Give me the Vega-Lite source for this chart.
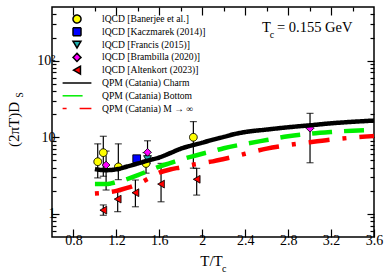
{
  "$schema": "https://vega.github.io/schema/vega-lite/v6.json",
  "width": 322,
  "height": 230,
  "autosize": {"type": "none"},
  "padding": {"left": 52, "top": 7, "right": 16, "bottom": 42},
  "background": "white",
  "config": {
    "view": {"stroke": "black", "strokeWidth": 1.5},
    "axis": {"domain": false, "grid": false, "labelFont": "Liberation Serif", "labelFontSize": 14, "labelColor": "black", "tickColor": "black", "tickWidth": 1.2, "titleFont": "Liberation Serif", "titleFontSize": 15, "titleFontWeight": "normal", "titleColor": "black", "labelFlush": false, "labelOverlap": false},
    "legend": {"labelFont": "Liberation Serif", "labelFontSize": 9.6, "labelColor": "black", "symbolSize": 64, "labelOffset": 20, "rowPadding": -1.2, "padding": 0, "labelLimit": 200}
  },
  "datasets": {
    "pts": [
      {"series": "lQCD [Francis (2015)]", "t": 1.49, "d": 5.2},
      {"series": "lQCD [Banerjee et al.]", "t": 1.026, "d": 4.8, "lo": 2.95, "hi": 8.2},
      {"series": "lQCD [Banerjee et al.]", "t": 1.078, "d": 6.3, "lo": 3.1, "hi": 10.3},
      {"series": "lQCD [Banerjee et al.]", "t": 1.218, "d": 4.1, "lo": 2.8, "hi": 8.2},
      {"series": "lQCD [Banerjee et al.]", "t": 1.476, "d": 4.55, "lo": 3.4, "hi": 6.3},
      {"series": "lQCD [Banerjee et al.]", "t": 1.917, "d": 10.0, "lo": 3.95, "hi": 16.0},
      {"series": "lQCD [Kaczmarek (2014)]", "t": 1.389, "d": 5.25},
      {"series": "lQCD [Brambilla (2020)]", "t": 1.104, "d": 4.34, "lo": 2.05, "hi": 6.6},
      {"series": "lQCD [Brambilla (2020)]", "t": 1.49, "d": 6.36, "lo": 4.6, "hi": 9.0},
      {"series": "lQCD [Brambilla (2020)]", "t": 3.004, "d": 13.1, "lo": 4.65, "hi": 20.5},
      {"series": "lQCD [Altenkort (2023)]", "t": 1.078, "d": 1.12, "lo": 0.96, "hi": 1.31},
      {"series": "lQCD [Altenkort (2023)]", "t": 1.212, "d": 1.56, "lo": 1.07, "hi": 1.95},
      {"series": "lQCD [Altenkort (2023)]", "t": 1.377, "d": 1.89, "lo": 1.24, "hi": 2.77},
      {"series": "lQCD [Altenkort (2023)]", "t": 1.616, "d": 2.45, "lo": 1.44, "hi": 4.56},
      {"series": "lQCD [Altenkort (2023)]", "t": 1.948, "d": 2.83, "lo": 1.76, "hi": 3.93}
    ],
    "lines": [
      {"series": "QPM (Catania) Charm", "t": 1.0, "d": 3.85},
      {"series": "QPM (Catania) Charm", "t": 1.05, "d": 3.75},
      {"series": "QPM (Catania) Charm", "t": 1.1, "d": 3.72},
      {"series": "QPM (Catania) Charm", "t": 1.15, "d": 3.74},
      {"series": "QPM (Catania) Charm", "t": 1.2, "d": 3.82},
      {"series": "QPM (Catania) Charm", "t": 1.3, "d": 4.15},
      {"series": "QPM (Catania) Charm", "t": 1.4, "d": 4.55},
      {"series": "QPM (Catania) Charm", "t": 1.5, "d": 5.0},
      {"series": "QPM (Catania) Charm", "t": 1.6, "d": 5.45},
      {"series": "QPM (Catania) Charm", "t": 1.7, "d": 6.2},
      {"series": "QPM (Catania) Charm", "t": 1.8, "d": 7.1},
      {"series": "QPM (Catania) Charm", "t": 1.9, "d": 7.8},
      {"series": "QPM (Catania) Charm", "t": 2.0, "d": 8.5},
      {"series": "QPM (Catania) Charm", "t": 2.1, "d": 9.3},
      {"series": "QPM (Catania) Charm", "t": 2.2, "d": 10.1},
      {"series": "QPM (Catania) Charm", "t": 2.3, "d": 11.0},
      {"series": "QPM (Catania) Charm", "t": 2.4, "d": 11.7},
      {"series": "QPM (Catania) Charm", "t": 2.6, "d": 12.6},
      {"series": "QPM (Catania) Charm", "t": 2.8, "d": 13.5},
      {"series": "QPM (Catania) Charm", "t": 3.0, "d": 14.3},
      {"series": "QPM (Catania) Charm", "t": 3.2, "d": 15.2},
      {"series": "QPM (Catania) Charm", "t": 3.4, "d": 15.9},
      {"series": "QPM (Catania) Charm", "t": 3.6, "d": 16.5},
      {"series": "QPM (Catania) Bottom", "t": 1.0, "d": 2.45},
      {"series": "QPM (Catania) Bottom", "t": 1.1, "d": 2.45},
      {"series": "QPM (Catania) Bottom", "t": 1.15, "d": 2.5},
      {"series": "QPM (Catania) Bottom", "t": 1.2, "d": 2.6},
      {"series": "QPM (Catania) Bottom", "t": 1.3, "d": 2.85},
      {"series": "QPM (Catania) Bottom", "t": 1.4, "d": 3.2},
      {"series": "QPM (Catania) Bottom", "t": 1.5, "d": 3.65},
      {"series": "QPM (Catania) Bottom", "t": 1.6, "d": 4.15},
      {"series": "QPM (Catania) Bottom", "t": 1.7, "d": 4.6},
      {"series": "QPM (Catania) Bottom", "t": 1.8, "d": 5.1},
      {"series": "QPM (Catania) Bottom", "t": 1.9, "d": 5.6},
      {"series": "QPM (Catania) Bottom", "t": 2.0, "d": 6.1},
      {"series": "QPM (Catania) Bottom", "t": 2.1, "d": 6.6},
      {"series": "QPM (Catania) Bottom", "t": 2.2, "d": 7.2},
      {"series": "QPM (Catania) Bottom", "t": 2.4, "d": 8.2},
      {"series": "QPM (Catania) Bottom", "t": 2.6, "d": 9.2},
      {"series": "QPM (Catania) Bottom", "t": 2.8, "d": 10.3},
      {"series": "QPM (Catania) Bottom", "t": 3.0, "d": 11.1},
      {"series": "QPM (Catania) Bottom", "t": 3.2, "d": 11.7},
      {"series": "QPM (Catania) Bottom", "t": 3.4, "d": 12.2},
      {"series": "QPM (Catania) Bottom", "t": 3.6, "d": 12.5},
      {"series": "QPM (Catania) M → ∞", "t": 1.0, "d": 1.85},
      {"series": "QPM (Catania) M → ∞", "t": 1.1, "d": 1.9},
      {"series": "QPM (Catania) M → ∞", "t": 1.2, "d": 2.0},
      {"series": "QPM (Catania) M → ∞", "t": 1.3, "d": 2.18},
      {"series": "QPM (Catania) M → ∞", "t": 1.4, "d": 2.45},
      {"series": "QPM (Catania) M → ∞", "t": 1.5, "d": 2.9},
      {"series": "QPM (Catania) M → ∞", "t": 1.6, "d": 3.45},
      {"series": "QPM (Catania) M → ∞", "t": 1.7, "d": 3.8},
      {"series": "QPM (Catania) M → ∞", "t": 1.8, "d": 4.05},
      {"series": "QPM (Catania) M → ∞", "t": 1.9, "d": 4.35},
      {"series": "QPM (Catania) M → ∞", "t": 2.0, "d": 4.6},
      {"series": "QPM (Catania) M → ∞", "t": 2.1, "d": 4.85},
      {"series": "QPM (Catania) M → ∞", "t": 2.2, "d": 5.2},
      {"series": "QPM (Catania) M → ∞", "t": 2.3, "d": 5.6},
      {"series": "QPM (Catania) M → ∞", "t": 2.4, "d": 6.1},
      {"series": "QPM (Catania) M → ∞", "t": 2.5, "d": 6.6},
      {"series": "QPM (Catania) M → ∞", "t": 2.6, "d": 7.1},
      {"series": "QPM (Catania) M → ∞", "t": 2.8, "d": 7.9},
      {"series": "QPM (Catania) M → ∞", "t": 3.0, "d": 8.6},
      {"series": "QPM (Catania) M → ∞", "t": 3.2, "d": 9.3},
      {"series": "QPM (Catania) M → ∞", "t": 3.4, "d": 9.9},
      {"series": "QPM (Catania) M → ∞", "t": 3.6, "d": 10.4}
    ]
  },
  "resolve": {"scale": {"x": "independent", "y": "independent"}},
  "layer": [
    {
      "layer": [
        {
          "data": {"name": "pts"},
          "transform": [{"filter": "isValid(datum.lo)"}],
          "mark": {"type": "errorbar", "color": "black", "thickness": 1.2, "ticks": {"size": 7}},
          "encoding": {
            "x": {"field": "t", "type": "quantitative", "scale": {"domain": [0.6, 3.6], "nice": false, "zero": false}, "title": "T/T"},
            "y": {"field": "lo", "type": "quantitative", "scale": {"type": "log", "domain": [0.5, 500], "nice": false}, "title": "(2πT)D"},
            "y2": {"field": "hi"}
          }
        },
        {
          "data": {"name": "pts"},
          "mark": {"type": "point", "filled": true, "size": 60, "opacity": 1, "strokeWidth": 1},
          "encoding": {
            "x": {"field": "t", "type": "quantitative", "scale": {"domain": [0.6, 3.6], "nice": false, "zero": false}, "title": "T/T",
              "axis": {"values": [0.8, 1.0, 1.2, 1.4, 1.6, 1.8, 2.0, 2.2, 2.4, 2.6, 2.8, 3.0, 3.2, 3.4, 3.6],
                "labelExpr": "round(datum.value*10) % 4 == 0 ? (datum.value == 2 ? '2' : format(datum.value, '.1f')) : ''",
                "tickSize": {"condition": {"test": "round(datum.value*10) % 4 == 0", "value": -8}, "value": -4},
                "labelPadding": 4, "titleX": 159, "titleY": 28, "titleAlign": "center", "titleBaseline": "alphabetic"}},
            "y": {"field": "d", "type": "quantitative", "scale": {"type": "log", "domain": [0.5, 500], "nice": false}, "title": "(2πT)D",
              "axis": {"values": [0.6, 0.7, 0.8, 0.9, 1, 2, 3, 4, 5, 6, 7, 8, 9, 10, 20, 30, 40, 50, 60, 70, 80, 90, 100, 200, 300, 400],
                "labelExpr": "datum.value == 1 ? '1' : datum.value == 10 ? '10' : datum.value == 100 ? '10²' : ''",
                "tickSize": {"condition": {"test": "datum.value == 1 || datum.value == 10 || datum.value == 100", "value": -7}, "value": -4},
                "labelPadding": 4, "titleX": -34, "titleY": 117, "titleAngle": 270, "titleAlign": "center", "titleBaseline": "alphabetic"}},
            "fill": {"field": "series", "type": "nominal",
              "scale": {"domain": ["lQCD [Banerjee et al.]", "lQCD [Kaczmarek (2014)]", "lQCD [Francis (2015)]", "lQCD [Brambilla (2020)]", "lQCD [Altenkort (2023)]", "QPM (Catania) Charm", "QPM (Catania) Bottom", "QPM (Catania) M → ∞"],
                "range": ["#ffff00", "#0000ff", "#20b0b0", "#ff00ff", "#ff0000", "transparent", "transparent", "transparent"]},
              "legend": null},
            "stroke": {"field": "series", "type": "nominal",
              "scale": {"domain": ["lQCD [Banerjee et al.]", "lQCD [Kaczmarek (2014)]", "lQCD [Francis (2015)]", "lQCD [Brambilla (2020)]", "lQCD [Altenkort (2023)]", "QPM (Catania) Charm", "QPM (Catania) Bottom", "QPM (Catania) M → ∞"],
                "range": ["black", "black", "black", "black", "black", "black", "#00ee00", "#ff0000"]},
              "legend": null},
            "shape": {"field": "series", "type": "nominal",
              "scale": {"domain": ["lQCD [Banerjee et al.]", "lQCD [Kaczmarek (2014)]", "lQCD [Francis (2015)]", "lQCD [Brambilla (2020)]", "lQCD [Altenkort (2023)]", "QPM (Catania) Charm", "QPM (Catania) Bottom", "QPM (Catania) M → ∞"],
                "range": ["circle", "square", "triangle-down", "diamond", "triangle-left", "M-3.6,-0.85M-3.6,0.85M-3.6,0H3.6", "M-3.6,-0.85M-3.6,0.85M-3.6,0H3.6", "M-3.6,-0.85M-3.6,0.85M-3.6,0H3.6"]},
              "legend": {"title": null, "orient": "none", "legendX": 20, "legendY": 7,
                "encode": {"symbols": {"update": {
                  "fill": {"scale": "fill", "field": "value"},
                  "stroke": {"scale": "stroke", "field": "value"},
                  "strokeWidth": {"signal": "indexof(datum.value, 'QPM') == 0 ? 4.5 : 1"},
                  "strokeDash": {"scale": "strokeDash", "field": "value"},
                  "opacity": {"value": 1}}}}}},
            "strokeDash": {"field": "series", "type": "nominal",
              "scale": {"domain": ["lQCD [Banerjee et al.]", "lQCD [Kaczmarek (2014)]", "lQCD [Francis (2015)]", "lQCD [Brambilla (2020)]", "lQCD [Altenkort (2023)]", "QPM (Catania) Charm", "QPM (Catania) Bottom", "QPM (Catania) M → ∞"],
                "range": [[1, 0], [1, 0], [1, 0], [1, 0], [1, 0], [1, 0], [20, 12], [4, 13, 21, 13]]},
              "legend": null}
          }
        },
        {
          "data": {"name": "lines"},
          "mark": {"type": "line", "interpolate": "monotone", "strokeCap": "butt", "strokeWidth": 4.5},
          "encoding": {
            "x": {"field": "t", "type": "quantitative", "title": "T/T"},
            "y": {"field": "d", "type": "quantitative", "title": "(2πT)D"},
            "stroke": {"field": "series", "type": "nominal", "legend": null},
            "strokeDash": {"field": "series", "type": "nominal", "legend": null}
          }
        },
        {
          "data": {"values": [{}]},
          "mark": {"type": "text", "align": "left", "baseline": "alphabetic", "font": "Liberation Serif", "fontSize": 14.5, "color": "black"},
          "encoding": {"x": {"datum": 2.556}, "y": {"datum": 238}, "text": {"value": "T"}}
        },
        {
          "data": {"values": [{}]},
          "mark": {"type": "text", "align": "left", "baseline": "alphabetic", "font": "Liberation Serif", "fontSize": 10, "color": "black"},
          "encoding": {"x": {"datum": 2.628}, "y": {"datum": 200}, "text": {"value": "c"}}
        },
        {
          "data": {"values": [{}]},
          "mark": {"type": "text", "align": "left", "baseline": "alphabetic", "font": "Liberation Serif", "fontSize": 14.5, "color": "black"},
          "encoding": {"x": {"datum": 2.696}, "y": {"datum": 238}, "text": {"value": "= 0.155 GeV"}}
        },
        {
          "data": {"values": [{}]},
          "mark": {"type": "text", "align": "left", "baseline": "alphabetic", "font": "Liberation Serif", "fontSize": 10, "color": "black"},
          "encoding": {"x": {"datum": 2.184}, "y": {"datum": 0.1774}, "text": {"value": "c"}}
        },
        {
          "data": {"values": [{}]},
          "mark": {"type": "text", "align": "center", "baseline": "alphabetic", "angle": 270, "font": "Liberation Serif", "fontSize": 10, "color": "black"},
          "encoding": {"x": {"datum": 0.33}, "y": {"datum": 35.6}, "text": {"value": "S"}}
        }
      ]
    },
    {
      "data": {"values": [{}]},
      "mark": {"type": "point", "opacity": 0},
      "encoding": {
        "x": {"datum": 2, "type": "quantitative", "scale": {"domain": [0.6, 3.6], "nice": false, "zero": false},
          "axis": {"orient": "top", "title": null, "labels": false, "values": [0.8, 1.0, 1.2, 1.4, 1.6, 1.8, 2.0, 2.2, 2.4, 2.6, 2.8, 3.0, 3.2, 3.4],
            "tickSize": {"condition": {"test": "round(datum.value*10) % 4 == 0", "value": -8}, "value": -4}}},
        "y": {"datum": 10, "type": "quantitative", "scale": {"type": "log", "domain": [0.5, 500], "nice": false},
          "axis": {"orient": "right", "title": null, "labels": false, "values": [0.6, 0.7, 0.8, 0.9, 1, 2, 3, 4, 5, 6, 7, 8, 9, 10, 20, 30, 40, 50, 60, 70, 80, 90, 100, 200, 300, 400],
            "tickSize": {"condition": {"test": "datum.value == 1 || datum.value == 10 || datum.value == 100", "value": -7}, "value": -4}}}
      }
    }
  ]
}
